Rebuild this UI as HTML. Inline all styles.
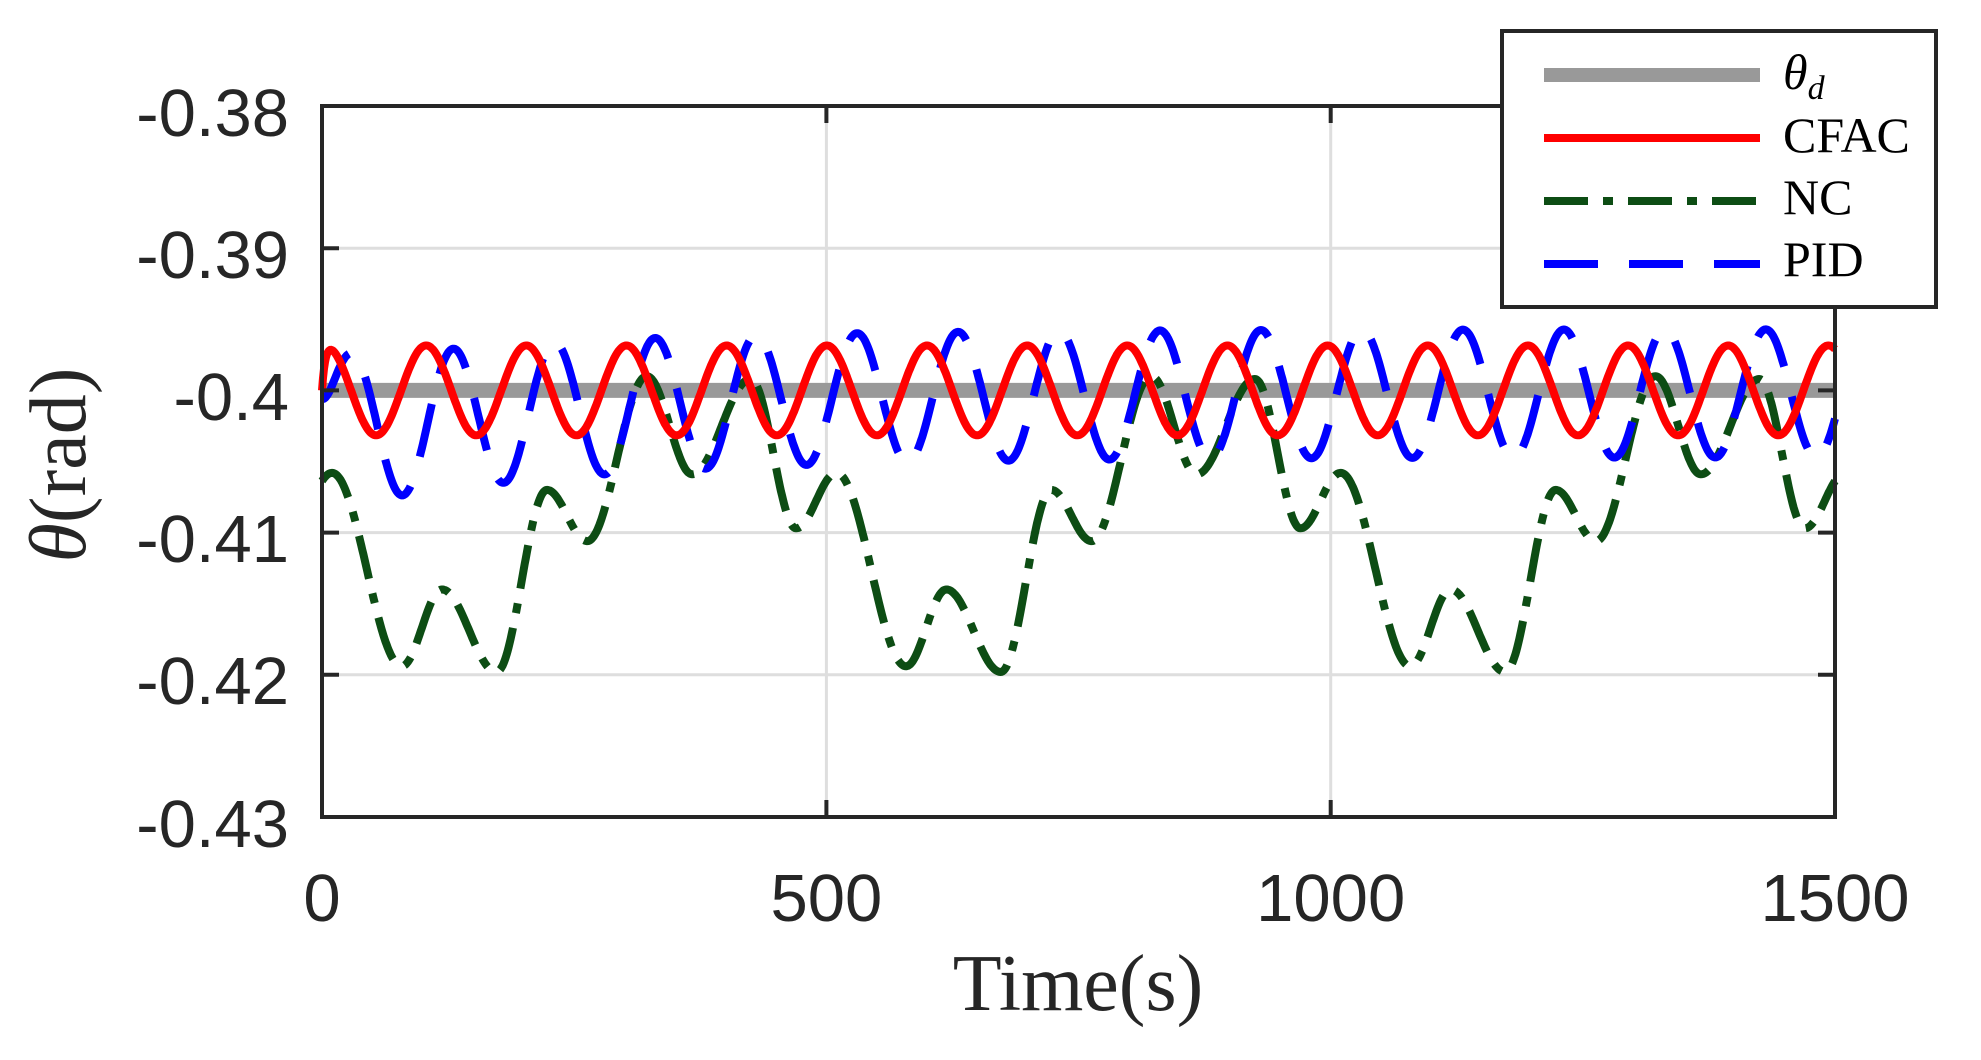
<!DOCTYPE html>
<html><head><meta charset="utf-8">
<style>
html,body{margin:0;padding:0;background:#fff;}
svg{display:block;}
</style></head>
<body>
<svg id="s" width="1981" height="1060" viewBox="0 0 1981 1060" xmlns="http://www.w3.org/2000/svg">
<rect x="0" y="0" width="1981" height="1060" fill="#fff"/>
<g stroke="#dedede" stroke-width="3">
<line x1="826.4" y1="106" x2="826.4" y2="817"/>
<line x1="1330.7" y1="106" x2="1330.7" y2="817"/>
<line x1="322" y1="248.2" x2="1835" y2="248.2"/>
<line x1="322" y1="390.4" x2="1835" y2="390.4"/>
<line x1="322" y1="532.6" x2="1835" y2="532.6"/>
<line x1="322" y1="674.8" x2="1835" y2="674.8"/>
</g>
<g id="series" fill="none" stroke-linejoin="round"></g>
<g stroke="#262626" stroke-width="4" fill="none">
<rect x="322" y="106" width="1513" height="711"/>
<path d="M322 248.2h17M322 390.4h17M322 532.6h17M322 674.8h17M1835 248.2h-17M1835 390.4h-17M1835 532.6h-17M1835 674.8h-17M826.4 817v-17M1330.7 817v-17M826.4 106v17M1330.7 106v17"/>
</g>
<g font-family="Liberation Sans, sans-serif" font-size="67" fill="#262626" text-anchor="end">
<text x="289" y="136">-0.38</text>
<text x="289" y="278">-0.39</text>
<text x="289" y="420">-0.4</text>
<text x="289" y="562">-0.41</text>
<text x="289" y="704">-0.42</text>
<text x="289" y="847">-0.43</text>
</g>
<g font-family="Liberation Sans, sans-serif" font-size="67" fill="#262626" text-anchor="middle">
<text x="322" y="921">0</text>
<text x="826.4" y="921">500</text>
<text x="1330.7" y="921">1000</text>
<text x="1835" y="921">1500</text>
</g>
<text x="1078" y="1010" font-family="Liberation Serif, serif" font-size="80" fill="#262626" text-anchor="middle">Time(s)</text>
<text transform="translate(85,465) rotate(-90)" font-family="Liberation Serif, serif" font-size="80" fill="#262626" text-anchor="middle"><tspan font-style="italic">θ</tspan>(rad)</text>
<rect x="1502" y="31" width="434" height="276" fill="#fff" stroke="#262626" stroke-width="4"/>
<line x1="1544" y1="75" x2="1760" y2="75" stroke="#999" stroke-width="14"/>
<line x1="1544" y1="138" x2="1760" y2="138" stroke="#ff0000" stroke-width="8"/>
<line x1="1544" y1="201" x2="1760" y2="201" stroke="#0d4d14" stroke-width="8" stroke-dasharray="44 15 10 15"/>
<line x1="1544" y1="264" x2="1760" y2="264" stroke="#0000ff" stroke-width="8" stroke-dasharray="54 31"/>
<g font-family="Liberation Serif, serif" font-size="50" fill="#000">
<text x="1783" y="89" font-style="italic">θ<tspan font-size="34" dy="10">d</tspan></text>
<text x="1783" y="152">CFAC</text>
<text x="1783" y="214">NC</text>
<text x="1783" y="276">PID</text>
</g>
</svg>
<script>
(function(){
var X=function(t){return 322+t*1513/1500;};
var Y=function(v){return 390.4-(v+0.4)*14220;};
function path(f){var d='';for(var t=0;t<=1500;t+=1){d+=(t?'L':'M')+X(t).toFixed(1)+' '+Y(f(t)).toFixed(1);}return d;}
var g=document.getElementById('series');
function add(d,col,w,dash){var p=document.createElementNS('http://www.w3.org/2000/svg','path');p.setAttribute('d',d);p.setAttribute('stroke',col);p.setAttribute('stroke-width',w);if(dash)p.setAttribute('stroke-dasharray',dash);g.appendChild(p);}
add('M322 390.4H1835','#999',15);
var K=[[10,-0.4058],[79,-0.4194],[119,-0.4140],[173,-0.4198],[223,-0.4070],[263,-0.4106],[322,-0.3990],[367,-0.4059],[425,-0.3992],[470,-0.4097]];
function green(t){var tt=((t-10)%500+500)%500+10;var pts=K.concat([[510,-0.4058]]);
 for(var i=0;i<pts.length-1;i++){if(tt>=pts[i][0]&&tt<=pts[i+1][0]){var a=pts[i],b=pts[i+1];var u=(tt-a[0])/(b[0]-a[0]);var s=(1-Math.cos(Math.PI*u))/2;return a[1]+(b[1]-a[1])*s;}}
 return -0.4065;}
function red(t){return -0.4+0.00316*(1-Math.exp(-t/3))*Math.cos(2*Math.PI*(t-4)/99.3);}
function blue(t){var e=Math.exp(-t/250);var c=-0.4002-0.003*e,a=0.0045+0.0007*e;return c+a*Math.cos(2*Math.PI*(t-30)/100.1)+0.0042*Math.exp(-t/12);}
add(path(green),'#0d4d14',8,'44 15 10 15');
add(path(blue),'#0000ff',8,'54 31');
add(path(red),'#ff0000',8);
})();
</script>
</body></html>
